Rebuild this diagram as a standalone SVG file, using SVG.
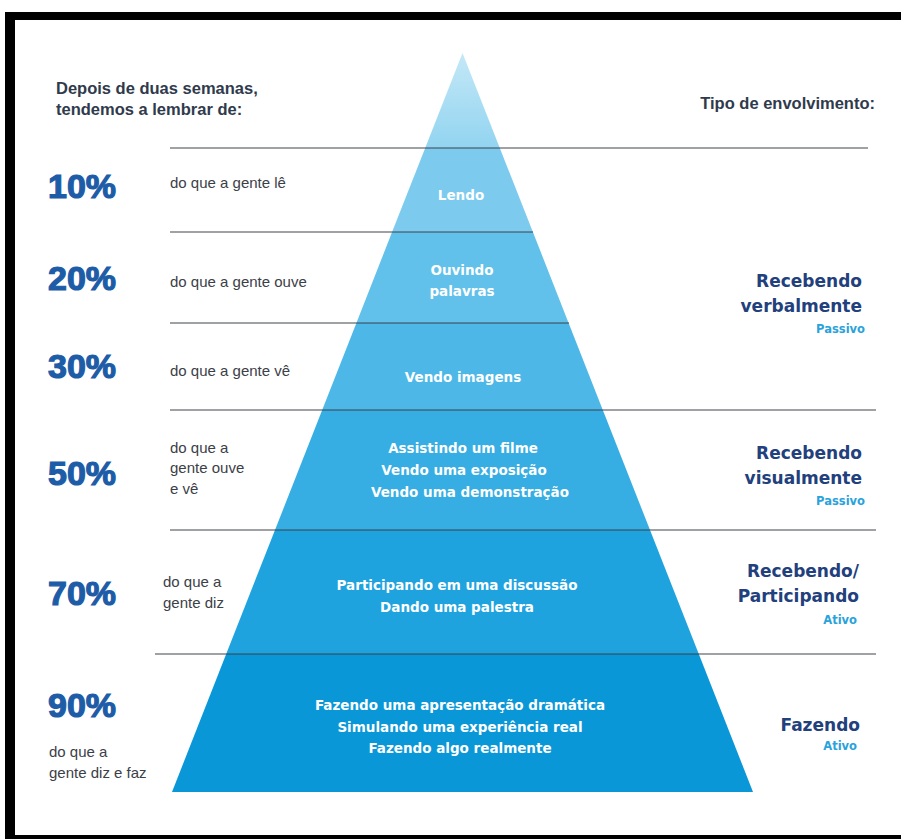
<svg xmlns="http://www.w3.org/2000/svg" width="901" height="839" viewBox="0 0 901 839">
<defs>
<linearGradient id="topg" x1="0" y1="0" x2="0" y2="1">
<stop offset="0" stop-color="#c4e8f7"/>
<stop offset="1" stop-color="#92d4f0"/>
</linearGradient>
<style>
.hd{font-family:"Liberation Sans",Arial,sans-serif;font-weight:bold;font-size:16.5px;fill:#2f3a4c}
.pc{font-family:"Liberation Sans",Arial,sans-serif;font-weight:bold;font-size:34px;fill:#1d5ca7;stroke:#1d5ca7;stroke-width:1.2}
.ds{font-family:"Liberation Sans",Arial,sans-serif;font-size:15px;fill:#3c4047}
.pt{font-family:"DejaVu Sans",Verdana,sans-serif;font-weight:bold;font-size:13.5px;fill:#ffffff;text-anchor:middle}
.rt{font-family:"DejaVu Sans",Verdana,sans-serif;font-weight:bold;font-size:17px;fill:#22407c;text-anchor:end}
.sm{font-family:"DejaVu Sans",Verdana,sans-serif;font-weight:bold;font-size:11.5px;fill:#2aa2dc;text-anchor:end}
.ln{stroke:#3a3f47;stroke-opacity:0.65;stroke-width:1.5;fill:none}
</style>
</defs>
<rect width="901" height="839" fill="#ffffff"/>
<g id="frame" fill="#000000">
<rect x="5" y="12" width="896" height="8"/>
<rect x="5" y="12" width="10" height="827"/>
<rect x="5" y="835" width="896" height="4"/>
</g>
<g id="pyramid">
<g id="band1"><polygon points="462.5,53 499.8,148 425.2,148" fill="url(#topg)"/></g>
<g id="band2"><polygon points="425.2,148 499.8,148 532.9,232 392.1,232" fill="#7ccbee"/><text class="pt" x="461" y="200">Lendo</text></g>
<g id="band3"><polygon points="392.1,232 532.9,232 568.6,323 356.4,323" fill="#62c1ea"/><text class="pt" x="462" y="275">Ouvindo</text><text class="pt" x="462" y="296">palavras</text></g>
<g id="band4"><polygon points="356.4,323 568.6,323 602.8,410 322.2,410" fill="#4db8e7"/><text class="pt" x="463" y="382">Vendo imagens</text></g>
<g id="band5"><polygon points="322.2,410 602.8,410 650,530 275,530" fill="#36ade3"/><text class="pt" x="463" y="453">Assistindo um filme</text><text class="pt" x="464" y="475">Vendo uma exposição</text><text class="pt" x="470" y="497">Vendo uma demonstração</text></g>
<g id="band6"><polygon points="275,530 650,530 698.8,654 226.2,654" fill="#1fa3df"/><text class="pt" x="457" y="590">Participando em uma discussão</text><text class="pt" x="457" y="612">Dando uma palestra</text></g>
<g id="band7"><polygon points="226.2,654 698.8,654 753,792 172,792" fill="#0a97d8"/><text class="pt" x="460" y="710">Fazendo uma apresentação dramática</text><text class="pt" x="460" y="732">Simulando uma experiência real</text><text class="pt" x="460" y="753">Fazendo algo realmente</text></g>
</g>
<g id="connectors">
<line class="ln" x1="170" y1="148" x2="868" y2="148"/>
<line class="ln" x1="170" y1="232" x2="533" y2="232"/>
<line class="ln" x1="170" y1="323" x2="569" y2="323"/>
<line class="ln" x1="170" y1="410" x2="876" y2="410"/>
<line class="ln" x1="170" y1="530" x2="876" y2="530"/>
<line class="ln" x1="155" y1="654" x2="876" y2="654"/>
</g>
<g id="left-heading">
<text class="hd" x="56" y="94">Depois de duas semanas,</text>
<text class="hd" x="56" y="115">tendemos a lembrar de:</text>
</g>
<g id="row10"><text class="pc" x="48" y="198">10%</text><text class="ds" x="170" y="188">do que a gente lê</text></g>
<g id="row20"><text class="pc" x="48" y="290">20%</text><text class="ds" x="170" y="287">do que a gente ouve</text></g>
<g id="row30"><text class="pc" x="48" y="378">30%</text><text class="ds" x="170" y="376">do que a gente vê</text></g>
<g id="row50"><text class="pc" x="48" y="485">50%</text><text class="ds" x="170" y="453">do que a</text><text class="ds" x="170" y="473">gente ouve</text><text class="ds" x="170" y="494">e vê</text></g>
<g id="row70"><text class="pc" x="48" y="605">70%</text><text class="ds" x="163" y="587">do que a</text><text class="ds" x="163" y="608">gente diz</text></g>
<g id="row90"><text class="pc" x="48" y="717">90%</text><text class="ds" x="49" y="757">do que a</text><text class="ds" x="49" y="778">gente diz e faz</text></g>
<g id="right-heading"><text class="hd" x="875" y="109" text-anchor="end">Tipo de envolvimento:</text></g>
<g id="type-verbal"><text class="rt" x="862" y="287">Recebendo</text><text class="rt" x="862" y="312">verbalmente</text><text class="sm" x="865" y="333">Passivo</text></g>
<g id="type-visual"><text class="rt" x="862" y="459">Recebendo</text><text class="rt" x="862" y="484">visualmente</text><text class="sm" x="865" y="505">Passivo</text></g>
<g id="type-particip"><text class="rt" x="859" y="577">Recebendo/</text><text class="rt" x="859" y="602">Participando</text><text class="sm" x="857" y="624">Ativo</text></g>
<g id="type-doing"><text class="rt" x="860" y="731">Fazendo</text><text class="sm" x="857" y="750">Ativo</text></g>
</svg>
